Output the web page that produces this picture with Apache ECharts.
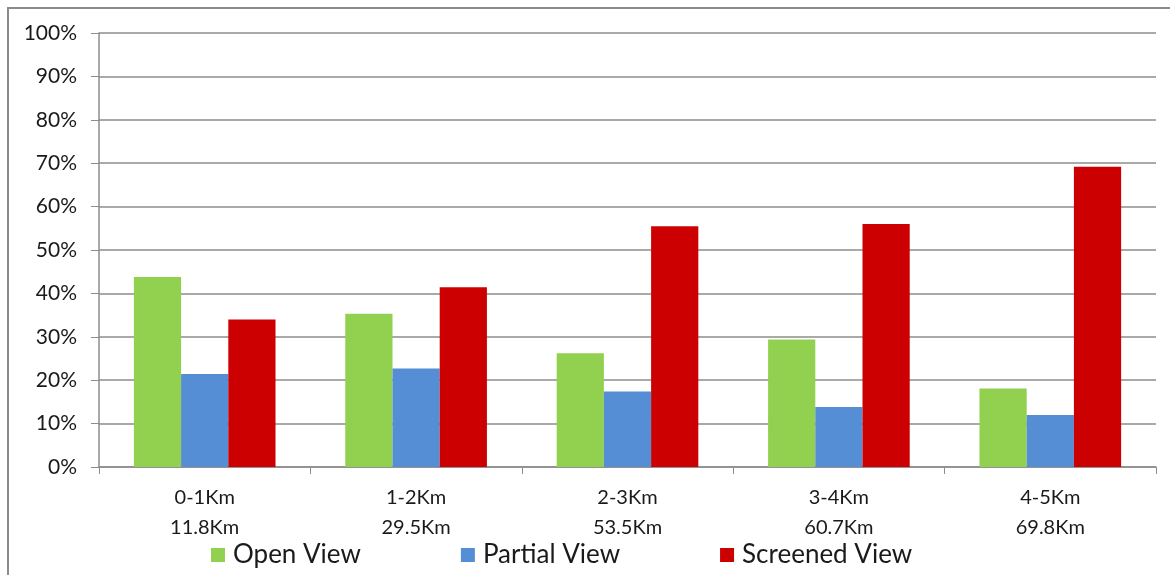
<!DOCTYPE html>
<html>
<head>
<meta charset="utf-8">
<script src="https://cdn.jsdelivr.net/npm/echarts@6/dist/echarts.min.js"></script>
<style>
  html, body { margin: 0; padding: 0; background: #fff; }
  #chart { width: 1170px; height: 575px; }
</style>
</head>
<body>
<div id="chart"></div>
<script>
// Distance bands and the cumulative distance shown under each band
const bands = ['0-1Km', '1-2Km', '2-3Km', '3-4Km', '4-5Km'];
const distances = ['11.8Km', '29.5Km', '53.5Km', '60.7Km', '69.8Km'];

// Share of view type per band (%)
const openView = [43.8, 35.3, 26.2, 29.4, 18.1];
const partialView = [21.4, 22.7, 17.4, 13.8, 12.0];
const screenedView = [34.0, 41.4, 55.5, 56.0, 69.2];

const seriesNames = ['Open View', 'Partial View', 'Screened View'];
const seriesColors = ['#92D050', '#558ED5', '#CC0000'];

const FONT = 'Lato, "Open Sans", sans-serif';

const chart = echarts.init(document.getElementById('chart'));
chart.setOption({
  animation: false,
  backgroundColor: '#ffffff',
  graphic: [{
    type: 'rect',
    shape: { x: 8, y: 8, width: 1200, height: 620 },
    style: { fill: 'none', stroke: '#8a8a8a', lineWidth: 2 },
    silent: true
  }],
  grid: { left: 99, right: 14, top: 33, bottom: 108 },
  legend: {
    bottom: 2,
    left: 206,
    itemWidth: 14,
    itemHeight: 14,
    itemGap: 100,
    icon: 'rect',
    textStyle: { fontFamily: FONT, fontSize: 26, color: '#1a1a1a', padding: [0, 0, 0, 3] },
    data: seriesNames
  },
  xAxis: {
    type: 'category',
    data: bands.map((b, i) => b + '\n' + distances[i]),
    axisLine: { lineStyle: { color: '#8c8c8c', width: 1.5 } },
    axisTick: { show: true, length: 7, lineStyle: { color: '#8c8c8c' } },
    axisLabel: {
      fontFamily: FONT, fontSize: 20, color: '#1a1a1a',
      lineHeight: 30, margin: 16
    }
  },
  yAxis: {
    type: 'value',
    min: 0, max: 100, interval: 10,
    axisLine: { show: true, lineStyle: { color: '#8c8c8c', width: 1.5 } },
    axisTick: { show: true, length: 8, lineStyle: { color: '#8c8c8c' } },
    splitLine: { lineStyle: { color: '#8c8c8c', width: 1.5 } },
    axisLabel: {
      fontFamily: FONT, fontSize: 21, color: '#1a1a1a', margin: 22,
      formatter: '{value}%'
    }
  },
  series: [openView, partialView, screenedView].map((vals, i) => ({
    name: seriesNames[i],
    type: 'bar',
    data: vals,
    barGap: '0%',
    barCategoryGap: '33%',
    itemStyle: { color: seriesColors[i] }
  }))
});
</script>
</body>
</html>
